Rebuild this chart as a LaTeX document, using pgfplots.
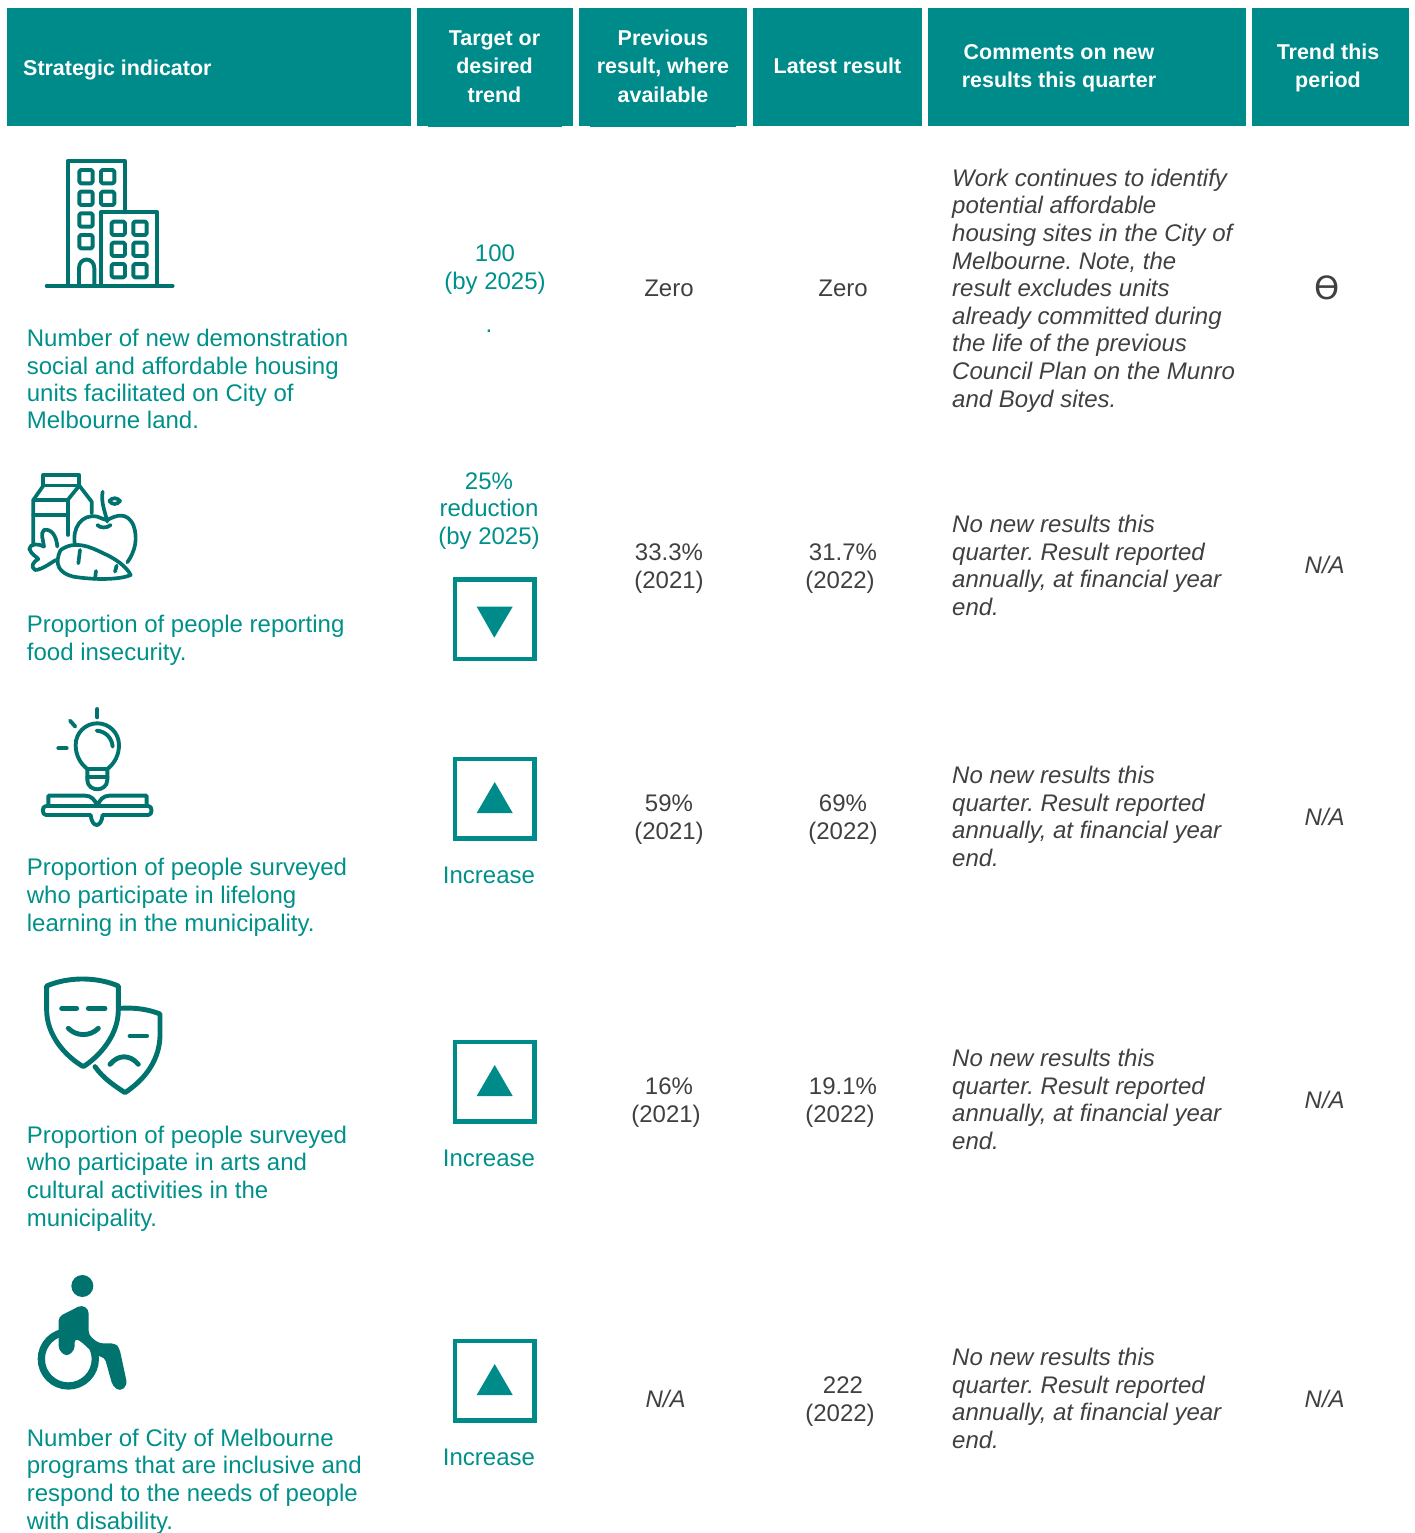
\documentclass[border=0pt]{standalone}
\usepackage{pgfplots}
\pgfplotsset{compat=1.18}
\usepackage{fontspec}
\setmainfont{Liberation Sans}
\frenchspacing
\definecolor{hdr}{HTML}{008B8B}
\definecolor{tl}{HTML}{00908A}
\definecolor{ink}{HTML}{00736F}
\definecolor{gr}{HTML}{404040}
\newcommand{\body}{\fontsize{24}{28}\selectfont}
\newcommand{\hd}{\fontsize{21.45}{26}\selectfont\bfseries}
\newcommand{\TL}[3]{\node[anchor=base west,inner sep=0pt,text=tl] at (axis cs:#1,#2) {\body #3};}
\newcommand{\TC}[3]{\node[anchor=base,inner sep=0pt,text=tl] at (axis cs:#1,#2) {\body #3};}
\newcommand{\GC}[3]{\node[anchor=base,inner sep=0pt,text=gr] at (axis cs:#1,#2) {\body #3};}
\newcommand{\GI}[3]{\node[anchor=base west,inner sep=0pt,text=gr] at (axis cs:#1,#2) {\body\itshape #3};}
\newcommand{\GIC}[3]{\node[anchor=base,inner sep=0pt,text=gr] at (axis cs:#1,#2) {\body\itshape #3};}
\newcommand{\HC}[3]{\node[anchor=base,inner sep=0pt,text=white] at (axis cs:#1,#2) {\hd #3};}
\newcommand{\HBar}[2]{\addplot[fill=hdr,draw=none,forget plot] coordinates {(#1,8)(#2,8)(#2,126)(#1,126)} --cycle;}
\newcommand{\TBox}[2]{\addplot[draw=hdr,line width=4.7pt,fill=none,forget plot] coordinates {(455,#1)(534.3,#1)(534.3,#2)(455,#2)} --cycle;}
\begin{document}
\begin{tikzpicture}
\begin{axis}[scale only axis,width=1415pt,height=1533pt,xmin=0,xmax=1415,ymin=0,ymax=1533,y dir=reverse,hide axis,clip=false]
\HBar{7}{411}\HBar{417}{573}\HBar{579}{747}\HBar{753}{922}\HBar{928}{1246}\HBar{1252}{1409}
\addplot[fill=hdr,draw=none,forget plot] coordinates {(428,126)(562,126)(562,127.5)(428,127.5)} --cycle;
\addplot[fill=hdr,draw=none,forget plot] coordinates {(590,126)(736,126)(736,127.5)(590,127.5)} --cycle;
% header text
\node[anchor=base west,inner sep=0pt,text=white] at (axis cs:23,76) {\hd Strategic indicator};
\HC{494.5}{46}{Target or}\HC{494.5}{74}{desired}\HC{494.5}{103}{trend}
\HC{663}{46}{Previous}\HC{663}{74}{result, where}\HC{663}{103}{available}
\HC{837.5}{74}{Latest result}
\HC{1059}{60}{Comments on new}\HC{1059}{88}{results this quarter}
\HC{1328}{60}{Trend this}\HC{1328}{88}{period}
% indicators
\TL{26.7}{346}{Number of new demonstration}\TL{26.7}{374}{social and affordable housing}\TL{26.7}{401}{units facilitated on City of}\TL{26.7}{428}{Melbourne land.}
\TL{26.7}{632}{Proportion of people reporting}\TL{26.7}{660}{food insecurity.}
\TL{26.7}{875}{Proportion of people surveyed}\TL{26.7}{903}{who participate in lifelong}\TL{26.7}{931}{learning in the municipality.}
\TL{26.7}{1143}{Proportion of people surveyed}\TL{26.7}{1170}{who participate in arts and}\TL{26.7}{1198}{cultural activities in the}\TL{26.7}{1226}{municipality.}
\TL{26.7}{1446}{Number of City of Melbourne}\TL{26.7}{1473}{programs that are inclusive and}\TL{26.7}{1501}{respond to the needs of people}\TL{26.7}{1529}{with disability.}
% targets
\TC{495}{261}{100}\TC{495}{289}{(by 2025)}\TC{489}{332}{.}
\TC{489}{489}{25\%}\TC{489}{516}{reduction}\TC{489}{544}{(by 2025)}
\TC{489}{883}{Increase}\TC{489}{1166}{Increase}\TC{489}{1465}{Increase}
% results
\GC{669}{296}{Zero}\GC{843}{296}{Zero}
\GC{669}{560}{33.3\%}\GC{669}{588}{(2021)}\GC{843}{560}{31.7\%}\GC{840}{588}{(2022)}
\GC{669}{811}{59\%}\GC{669}{839}{(2021)}\GC{843}{811}{69\%}\GC{843}{839}{(2022)}
\GC{669}{1094}{16\%}\GC{666}{1122}{(2021)}\GC{843}{1094}{19.1\%}\GC{840}{1122}{(2022)}
\GIC{665.5}{1407}{N/A}\GC{843}{1393}{222}\GC{840}{1421}{(2022)}
% comments
\GI{952}{186}{Work continues to identify}\GI{952}{213}{potential affordable}\GI{952}{241}{housing sites in the City of}\GI{952}{269}{Melbourne. Note, the}\GI{952}{296}{result excludes units}\GI{952}{324}{already committed during}\GI{952}{351}{the life of the previous}\GI{952}{379}{Council Plan on the Munro}\GI{952}{407}{and Boyd sites.}
\GI{952}{532}{No new results this}\GI{952}{560}{quarter. Result reported}\GI{952}{587}{annually, at financial year}\GI{952}{615}{end.}
\GI{952}{783}{No new results this}\GI{952}{811}{quarter. Result reported}\GI{952}{838}{annually, at financial year}\GI{952}{866}{end.}
\GI{952}{1066}{No new results this}\GI{952}{1094}{quarter. Result reported}\GI{952}{1121}{annually, at financial year}\GI{952}{1149}{end.}
\GI{952}{1365}{No new results this}\GI{952}{1393}{quarter. Result reported}\GI{952}{1420}{annually, at financial year}\GI{952}{1448}{end.}
% trend
\GIC{1324.7}{573}{N/A}\GIC{1324.7}{825}{N/A}\GIC{1324.7}{1108}{N/A}\GIC{1324.7}{1407}{N/A}
% trend boxes
\TBox{579.7}{659.1}\TBox{759}{838.4}\TBox{1042}{1121.4}\TBox{1341}{1420.4}
\addplot[fill=hdr,draw=none,forget plot] coordinates {(476.7,606.7)(512.7,606.7)(494.3,637.7)} --cycle;
\addplot[fill=hdr,draw=none,forget plot] coordinates {(476.7,813)(512.7,813)(494.7,782)} --cycle;
\addplot[fill=hdr,draw=none,forget plot] coordinates {(476.7,1096)(512.7,1096)(494.7,1065)} --cycle;
\addplot[fill=hdr,draw=none,forget plot] coordinates {(476.7,1395)(512.7,1395)(494.7,1364)} --cycle;
\end{axis}
% icons
\tikzset{ic/.style={x=0.3333pt,y=-0.3333pt,shift={(#1)},draw=ink,line cap=round,line join=round,line width=3.9pt}}
% building
\begin{scope}[ic={30pt,1383pt}]
\draw (285,187)--(285,33)--(113,33)--(113,408);
\draw (212,408)--(212,187)--(382,187)--(382,408);
\draw (50,408)--(428,408);
\draw (147,408)--(147,355) .. controls (147,320) and (193,320) .. (193,355)--(193,408);
\foreach \x/\y in {168/80,233/80,168/145,233/145,168/210,168/275,265/235,330/235,265/298,330/298,265/362,330/362}
  \draw[rounded corners=1.5pt] (\x-20,\y-20) rectangle (\x+20,\y+20);
\end{scope}
% produce
\begin{scope}[ic={20pt,1068pt},line width=3.7pt]
\draw (70,62)--(70,30)--(178,30)--(178,62)--(70,62);
\draw (70,62)--(40,105)--(40,238);
\draw (40,105)--(143,105)--(178,62)--(215,110)--(215,145);
\draw (143,105)--(143,210);
\draw (40,150)--(143,150);
\draw (165,240) .. controls (155,190) and (185,145) .. (232,155) .. controls (245,160) and (255,165) .. (262,165) .. controls (290,150) and (320,140) .. (340,180) .. controls (355,220) and (345,260) .. (322,292);
\draw (232,180) .. controls (240,190) and (262,190) .. (272,180);
\draw (248,80) .. controls (242,110) and (255,140) .. (262,170);
\draw (268,108) .. controls (278,96) and (292,98) .. (300,108) .. controls (292,120) and (276,120) .. (268,108);
\draw (122,255) .. controls (165,225) and (210,245) .. (250,265) .. controls (285,280) and (320,305) .. (332,330) .. controls (300,345) and (220,345) .. (160,335) .. controls (120,325) and (100,300) .. (122,255);
\draw (112,245) .. controls (110,215) and (95,190) .. (72,195) .. controls (60,205) and (70,225) .. (72,245) .. controls (55,235) and (30,235) .. (28,252) .. controls (35,270) and (50,275) .. (55,282) .. controls (40,290) and (30,305) .. (45,315) .. controls (65,315) and (90,295) .. (108,285);
\draw (180,255)--(175,295); \draw (228,318)--(225,342); \draw (290,302)--(285,320);
\end{scope}
% lightbulb
\begin{scope}[ic={30pt,833pt}]
\draw (202,27)--(202,52); \draw (120,62)--(136,80); \draw (85,145)--(110,145);
\draw (172,207) .. controls (150,190) and (137,165) .. (137,135) .. controls (137,98) and (167,70) .. (202,70) .. controls (237,70) and (267,98) .. (267,135) .. controls (267,165) and (254,190) .. (232,207);
\draw (200,92) .. controls (228,94) and (246,115) .. (248,140);
\draw (172,207)--(232,207);
\draw (172,207)--(172,240) .. controls (172,260) and (190,268) .. (202,268) .. controls (214,268) and (232,260) .. (232,240)--(232,207);
\draw (172,232)--(232,232);
\draw (55,318)--(55,287)--(165,287) .. controls (185,287) and (195,300) .. (202,318) .. controls (209,300) and (219,287) .. (239,287)--(350,287)--(350,318);
\draw (48,318)--(355,318) .. controls (368,318) and (368,345) .. (355,345)--(218,345) .. controls (216,365) and (208,375) .. (200,375) .. controls (192,375) and (184,365) .. (182,345)--(48,345) .. controls (35,345) and (35,318) .. (48,318);
\end{scope}
% masks
\begin{scope}[ic={35pt,563pt},line width=4.9pt]
\draw (35,48) .. controls (100,20) and (185,20) .. (250,48)--(250,120) .. controls (250,195) and (195,258) .. (145,290) .. controls (90,258) and (35,195) .. (35,120)--cycle;
\draw (80,115)--(125,115); \draw (160,115)--(210,115);
\draw (100,175) .. controls (125,200) and (165,200) .. (190,175);
\draw (255,115) .. controls (300,112) and (340,118) .. (375,132)--(375,200) .. controls (372,280) and (320,335) .. (270,368) .. controls (235,345) and (205,325) .. (180,290);
\draw (285,198)--(335,198);
\draw (225,283) .. controls (250,253) and (285,253) .. (310,283);
\end{scope}
% wheelchair
\begin{scope}[ic={30pt,263pt},line width=0pt,fill=ink]
\fill[ink] (157,48) circle (11pt);
\draw[line width=7.3pt] (115,267) circle (27pt);
\fill[ink,rounded corners=4pt] (86,140)--(155,105)--(176,118)--(176,195)--(206,220)--(255,220)--(268,233)--(292,345)--(270,364)--(248,348)--(224,262)--(200,258)--(150,212)--(134,205)--(134,240)--(110,260)--(86,240)--cycle;
\end{scope}
\node[anchor=base,inner sep=0pt,text=gr] at (1327.5pt,1233.5pt) {\fontsize{32}{34}\selectfont\fontspec{DejaVu Sans}ϴ};
\pgfresetboundingbox
\path (0,0) rectangle (1415pt,1533pt);
\end{tikzpicture}
\end{document}
